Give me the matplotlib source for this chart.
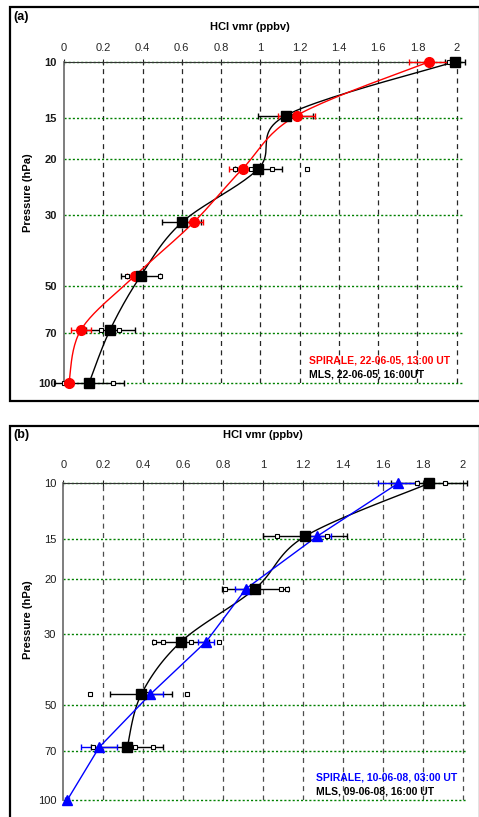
import matplotlib
matplotlib.use("Agg")
import matplotlib.pyplot as plt
import numpy as np
from matplotlib.patches import Rectangle

plt.rcParams["font.family"] = ["Liberation Sans", "DejaVu Sans"]

W, H = 479, 817

# pressure levels (hPa)
p_levels = [10, 14.7, 21.5, 31.6, 46.4, 68.1, 100]
grid_p = [10, 15, 20, 30, 50, 70, 100]
xticks = [0, 0.2, 0.4, 0.6, 0.8, 1, 1.2, 1.4, 1.6, 1.8, 2]

# panel (a): 22-06-05
a_mls = [1.99, 1.13, 0.99, 0.60, 0.39, 0.235, 0.127]
a_mls_err = [0.05, 0.14, 0.12, 0.10, 0.10, 0.125, 0.18]
a_spi = [1.86, 1.185, 0.91, 0.66, 0.36, 0.087, 0.025]
a_spi_err = [0.105, 0.095, 0.07, 0.05, 0.04, 0.05, 0.02]
a_ind_p = [10, 14.7, 21.5, 21.5, 21.5, 21.5, 21.5, 46.4, 46.4, 68.1, 68.1, 100, 100]
a_ind_x = [1.96, 1.17, 0.87, 0.90, 0.95, 1.06, 1.24, 0.32, 0.49, 0.19, 0.28, 0.0, 0.25]

# panel (b): 09/10-06-08
b_mls_p = [10, 14.7, 21.5, 31.6, 46.4, 68.1]
b_mls = [1.83, 1.21, 0.96, 0.59, 0.39, 0.32]
b_mls_err = [0.19, 0.21, 0.165, 0.14, 0.155, 0.18]
b_spi = [1.675, 1.27, 0.915, 0.715, 0.435, 0.18, 0.02]
b_spi_err = [0.10, 0.07, 0.055, 0.04, 0.065, 0.09, 0.01]
b_ind_p = [10, 10, 14.7, 14.7, 21.5, 21.5, 21.5, 31.6, 31.6, 31.6, 31.6,
           46.4, 46.4, 46.4, 68.1, 68.1, 68.1]
b_ind_x = [1.77, 1.91, 1.07, 1.32, 0.81, 1.09, 1.12, 0.455, 0.50, 0.64, 0.78,
           0.135, 0.42, 0.62, 0.15, 0.36, 0.45]


def add_axes(fig, x0, x1, ytop, ybot):
    return fig.add_axes([x0 / W, 1 - ybot / H, (x1 - x0) / W, (ybot - ytop) / H])


def smooth(ax, x, p, n=24):
    pts = ax.transData.transform(np.column_stack([x, p]))
    P = np.vstack([pts[0], pts, pts[-1]])
    t = np.linspace(0, 1, n)[:, None]
    out = []
    for i in range(1, len(P) - 2):
        p0, p1, p2, p3 = P[i - 1], P[i], P[i + 1], P[i + 2]
        c = 0.5 * (2 * p1 + (-p0 + p2) * t + (2 * p0 - 5 * p1 + 4 * p2 - p3) * t ** 2
                   + (-p0 + 3 * p1 - 3 * p2 + p3) * t ** 3)
        out.append(c)
    out = np.vstack(out)
    d = ax.transData.inverted().transform(out)
    return d[:, 0], d[:, 1]


def errbars(ax, x, p, err, color):
    cont = ax.errorbar(x, p, xerr=err, fmt="none", ecolor=color,
                       elinewidth=1.0, capsize=2.5, zorder=4)
    for art in cont.lines[1] + cont.lines[2]:
        art.set_clip_on(False)


def setup(ax, xmax, gridc, bold):
    ax.set_yscale("log")
    ax.set_xlim(0, xmax)
    ax.set_ylim(100, 10)
    ax.set_xticks(xticks)
    ax.set_xticklabels([f"{v:g}" for v in xticks])
    ax.set_yticks(grid_p)
    ax.set_yticklabels([str(v) for v in grid_p])
    ax.yaxis.set_minor_locator(plt.NullLocator())
    ax.xaxis.tick_top()
    ax.tick_params(axis="x", direction="inout", length=5, width=0.8, pad=4,
                   labelsize=8, colors="0.15")
    ax.tick_params(axis="y", length=0, pad=5, labelsize=8, colors="0.1")
    for lab in ax.get_yticklabels():
        lab.set_fontweight("bold" if bold else "normal")
    for s in ["right", "bottom"]:
        ax.spines[s].set_visible(False)
    ax.spines["left"].set_color("0.45")
    ax.spines["left"].set_linewidth(1.3)
    ax.spines["top"].set_color("0.2")
    ax.spines["top"].set_linewidth(0.8)
    for v in xticks[1:]:
        ax.axvline(v, color=gridc, lw=0.9, dashes=(4, 3.5), zorder=1)
    for v in grid_p:
        ax.axhline(v, color="#008000", lw=1.0, dashes=(1.5, 1.5), zorder=1.5,
                   clip_on=False)
    ax.set_facecolor("none")


fig = plt.figure(figsize=(W / 100, H / 100), dpi=100)

# outer frames
for (y0, y1) in [(7, 401), (426, 830)]:
    fig.patches.append(Rectangle((10 / W, 1 - y1 / H), (480 - 10) / W, (y1 - y0) / H,
                                 transform=fig.transFigure, fill=False,
                                 ec="black", lw=1.6))

# ---------------- panel (a)
ax = add_axes(fig, 64, 462, 61.7, 383.3)
setup(ax, 2.027, "0.15", True)

xs, ps = smooth(ax, a_mls, p_levels)
ax.plot(xs, ps, color="black", lw=1.0, zorder=3, clip_on=False)
xs, ps = smooth(ax, a_spi, p_levels)
ax.plot(xs, ps, color="red", lw=1.0, zorder=3, clip_on=False)
errbars(ax, a_mls, p_levels, a_mls_err, "black")
ax.plot(a_ind_x, a_ind_p, ls="none", marker="s", ms=3, mfc="white", mec="black",
        mew=0.8, zorder=5, clip_on=False)
errbars(ax, a_spi, p_levels, a_spi_err, "red")
ax.plot(a_spi, p_levels, ls="none", marker="o", ms=7, color="red", zorder=6,
        clip_on=False)
ax.plot(a_mls, p_levels, ls="none", marker="s", ms=6.5, color="black", zorder=6,
        clip_on=False)

fig.text(13 / W, 1 - 17 / H, "(a)", fontsize=9, fontweight="bold", va="center")
fig.text(250 / W, 1 - 27 / H, "HCl vmr (ppbv)", fontsize=8, fontweight="bold",
         ha="center", va="center")
fig.text(28 / W, 1 - 193 / H, "Pressure (hPa)", fontsize=8, fontweight="bold",
         ha="center", va="center", rotation=90)
fig.text(309 / W, 1 - 360 / H, "SPIRALE, 22-06-05, 13:00 UT", fontsize=7.5,
         fontweight="bold", color="red", va="center")
fig.text(309 / W, 1 - 374.5 / H, "MLS, 22-06-05, 16:00UT", fontsize=7.5,
         fontweight="bold", color="black", va="center")

# ---------------- panel (b)
bx = add_axes(fig, 63.3, 466, 483.3, 800)
setup(bx, 2.015, "0.3", False)
bx.tick_params(axis="x", pad=7)

xs, ps = smooth(bx, b_mls, b_mls_p)
bx.plot(xs, ps, color="black", lw=1.0, zorder=3, clip_on=False)
bx.plot(b_spi, p_levels, color="blue", lw=1.0, zorder=3, clip_on=False)
errbars(bx, b_mls, b_mls_p, b_mls_err, "black")
bx.plot(b_ind_x, b_ind_p, ls="none", marker="s", ms=3, mfc="white", mec="black",
        mew=0.8, zorder=5, clip_on=False)
errbars(bx, b_spi, p_levels, b_spi_err, "blue")
bx.plot(b_spi, p_levels, ls="none", marker="^", ms=7.5, color="blue", zorder=6,
        clip_on=False)
bx.plot(b_mls, b_mls_p, ls="none", marker="s", ms=6.5, color="black", zorder=6,
        clip_on=False)

fig.text(13 / W, 1 - 435 / H, "(b)", fontsize=9, fontweight="bold", va="center")
fig.text(263 / W, 1 - 435 / H, "HCl vmr (ppbv)", fontsize=8, fontweight="bold",
         ha="center", va="center")
fig.text(28 / W, 1 - 620 / H, "Pressure (hPa)", fontsize=8, fontweight="bold",
         ha="center", va="center", rotation=90)
fig.text(316 / W, 1 - 777.5 / H, "SPIRALE, 10-06-08, 03:00 UT", fontsize=7.5,
         fontweight="bold", color="blue", va="center")
fig.text(316 / W, 1 - 791 / H, "MLS, 09-06-08, 16:00 UT", fontsize=7.5,
         fontweight="bold", color="black", va="center")

fig.savefig("out.png", dpi=100)
